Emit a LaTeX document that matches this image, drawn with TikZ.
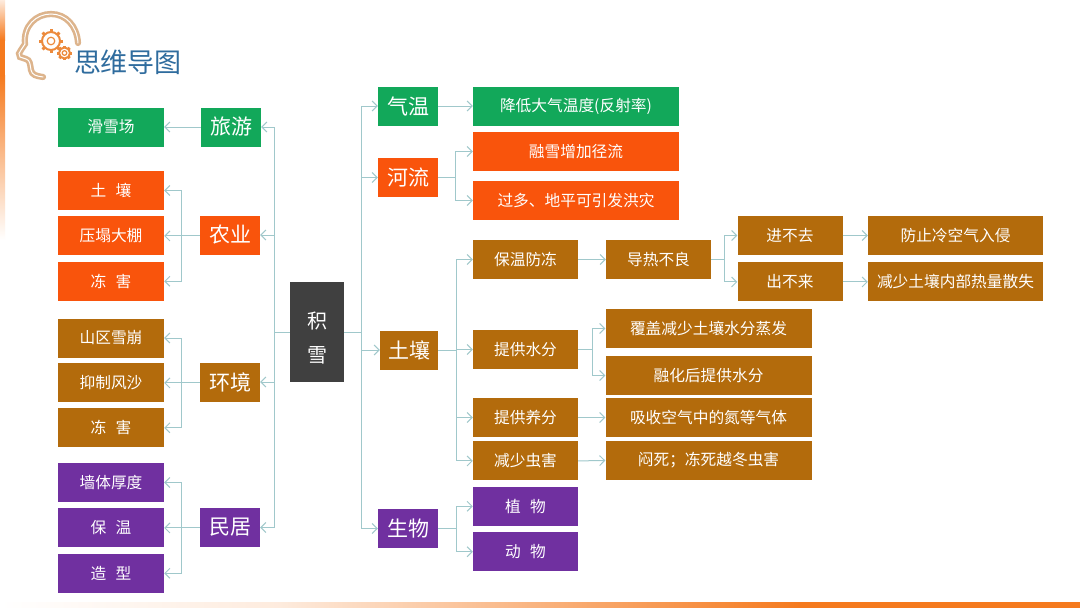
\documentclass[tikz,border=0pt]{standalone}
\usepackage{fontspec}
\setmainfont{Noto Sans CJK SC}[WordSpace=2.6]
\usepackage{tikz}
\usetikzlibrary{positioning,arrows.meta}

\definecolor{snowgreen}{HTML}{12A85A}
\definecolor{snoworange}{HTML}{F9540C}
\definecolor{snowbrown}{HTML}{B36B0C}
\definecolor{snowpurple}{HTML}{7030A0}
\definecolor{snowgray}{HTML}{404040}
\definecolor{linkteal}{HTML}{A0C8CB}
\definecolor{titleblue}{HTML}{2F6C9E}
\definecolor{stripe}{HTML}{F57A1E}
\definecolor{headtan}{HTML}{DDB48C}
\definecolor{gearorange}{HTML}{EC8A3C}

\newcommand{\geararm}[3]{%
  \draw[gearorange,line width=2pt] (#1,#2) circle (#3);
  \draw[gearorange,line width=1.2pt] (#1,#2) circle (#3*0.42);
  \foreach \a in {0,45,...,315}
    \draw[gearorange,line width=3pt] (#1,#2) ++(\a:#3) -- ++(\a:#3*0.32);
}

\begin{document}
\begin{tikzpicture}[
    x=1pt, y=-1pt,
    every node/.style={text=white, align=center, inner sep=0pt, minimum height=39pt},
    top/.style={font=\fontsize{21}{24}\selectfont, minimum width=60pt},
    leaf/.style={font=\fontsize{15.7}{18}\selectfont, minimum width=106pt},
    mid/.style={font=\fontsize{15.7}{18}\selectfont, minimum width=105pt},
    wide/.style={font=\fontsize{15.7}{18}\selectfont, minimum width=206pt},
    far/.style={font=\fontsize{15.7}{18}\selectfont, minimum width=175pt},
    green/.style={fill=snowgreen},
    orange/.style={fill=snoworange},
    brown/.style={fill=snowbrown},
    purple/.style={fill=snowpurple},
    link/.style={linkteal, line width=1pt, -{Straight Barb[length=5pt,width=10pt]}}
]
\useasboundingbox (0,0) rectangle (1080,608);
\fill[white] (0,0) rectangle (1080,608);

% edge stripes
\shade[top color=stripe!15, bottom color=stripe] (0,0) rectangle (5,40);
\fill[stripe] (0,40) rectangle (5,75);
\shade[top color=stripe, bottom color=white] (0,75) rectangle (5,240);
\shade[left color=white, right color=stripe!15] (0,602) rectangle (280,608);
\shade[left color=stripe!15, right color=stripe] (280,602) rectangle (800,608);
\fill[stripe] (800,602) rectangle (1080,608);

% header
\draw[headtan, line width=2.6pt, double=white, double distance=1pt, line cap=round]
    (43,77) .. controls (36,76) and (32,75) .. (31,70)
    .. controls (30,64) and (30,60) .. (26,59)
    -- (20,57) .. controls (18,55) and (19,52) .. (21,50)
    -- (25,44) .. controls (23,26) and (36,14) .. (51,14)
    .. controls (66,14) and (77,26) .. (78,43);
\geararm{51}{41}{9pt}
\geararm{64.500}{53}{5.500pt}
\node[text=titleblue, font=\fontsize{27}{30}\selectfont, minimum height=0pt] (title) at (128,62) {思维导图};

% centre
\node[fill=snowgray, minimum width=54pt, minimum height=100pt, font=\fontsize{20}{34}\selectfont] (snow) at (317,332) {\rule{0pt}{29pt}积\\雪};

% left side
\node[top, green] (tour) at (231,127) {旅游};
\node[top, orange] (farm) at (230,235) {农业};
\node[top, brown] (env) at (230,382) {环境};
\node[top, purple] (home) at (230,527.500) {民居};

\node[leaf, green] (ski) at (111,127) {滑雪场};

\node[leaf, orange] (farma) at (111,190.500) {土 壤};
\node[leaf, orange, below=6pt of farma] (farmb) {压塌大棚};
\node[leaf, orange, below=6pt of farmb] (farmc) {冻 害};

\node[leaf, brown] (enva) at (111,338) {山区雪崩};
\node[leaf, brown, below=5.500pt of enva] (envb) {抑制风沙};
\node[leaf, brown, below=5.500pt of envb] (envc) {冻 害};

\node[leaf, purple] (homea) at (111,482.500) {墙体厚度};
\node[leaf, purple, below=6pt of homea] (homeb) {保 温};
\node[leaf, purple, below=6pt of homeb] (homec) {造 型};

% right side
\node[top, green] (air) at (408,106) {气温};
\node[top, orange] (river) at (408,177.500) {河流};
\node[top, brown, minimum width=58pt] (soil) at (409,350) {土壤};
\node[top, purple] (life) at (408,528.500) {生物};

\node[wide, green] (aira) at (576,106) {降低大气温度(反射率)};
\node[wide, orange] (rivera) at (576,151.500) {融雪增加径流};
\node[wide, orange] (riverb) at (576,200.500) {过多、地平可引发洪灾};

\node[mid, brown] (warm) at (525.500,259.500) {保温防冻};
\node[mid, brown] (water) at (525.500,349.500) {提供水分};
\node[mid, brown] (feed) at (525.500,417.500) {提供养分};
\node[mid, brown, below=4pt of feed] (pest) {减少虫害};
\node[mid, purple, below=6pt of pest] (plant) {植 物};
\node[mid, purple, below=6pt of plant] (animal) {动 物};

\node[mid, brown] (heat) at (658.500,259.500) {导热不良};
\node[mid, brown] (goin) at (790,235.500) {进不去};
\node[mid, brown, below=7pt of goin] (goout) {出不来};
\node[far, brown] (cold) at (955.500,235.500) {防止冷空气入侵};
\node[far, brown, below=7pt of cold] (keep) {减少土壤内部热量散失};

\node[wide, brown] (cover) at (708.500,328.500) {覆盖减少土壤水分蒸发};
\node[wide, brown] (melt) at (708.500,375.500) {融化后提供水分};
\node[wide, brown] (nitro) at (708.500,417.500) {吸收空气中的氮等气体};
\node[wide, brown] (kill) at (708.500,460.500) {闷死；冻死越冬虫害};

% connectors
\foreach \t in {tour,farm,env,home}
    \draw[link] (snow.west) -- ++(-15,0) |- (\t.east);
\foreach \t in {air,river,soil,life}
    \draw[link] (snow.east) -- ++(17,0) |- (\t.west);
\draw[link] (tour.west) -- (ski.east);
\foreach \t in {farma,farmb,farmc}
    \draw[link] (farm.west) -- ++(-18,0) |- (\t.east);
\foreach \t in {enva,envb,envc}
    \draw[link] (env.west) -- ++(-18,0) |- (\t.east);
\foreach \t in {homea,homeb,homec}
    \draw[link] (home.west) -- ++(-18,0) |- (\t.east);
\draw[link] (air.east) -- (aira.west);
\foreach \t in {rivera,riverb}
    \draw[link] (river.east) -- ++(17,0) |- (\t.west);
\foreach \t in {warm,water,feed,pest}
    \draw[link] (soil.east) -- ++(18,0) |- (\t.west);
\foreach \t in {plant,animal}
    \draw[link] (life.east) -- ++(18,0) |- (\t.west);
\draw[link] (warm.east) -- (heat.west);
\foreach \t in {goin,goout}
    \draw[link] (heat.east) -- ++(13,0) |- (\t.west);
\draw[link] (goin.east) -- (cold.west);
\draw[link] (goout.east) -- (keep.west);
\foreach \t in {cover,melt}
    \draw[link] (water.east) -- ++(14,0) |- (\t.west);
\draw[link] (feed.east) -- (nitro.west);
\draw[link] (pest.east) -- (kill.west);
\end{tikzpicture}
\end{document}
